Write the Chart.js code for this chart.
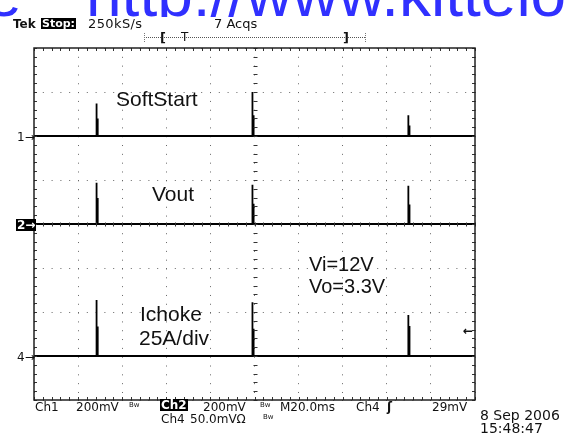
<!DOCTYPE html>
<html>
<head>
<meta charset="utf-8">
<script src="https://cdn.jsdelivr.net/npm/chart.js@4"></script>
<style>
  body { margin: 0; background: #fff; }
  #wrap { position: relative; width: 564px; height: 434px; overflow: hidden; background: #fff; }
  #scope { position: absolute; left: 0; top: 0; }
  .t { position: absolute; white-space: pre; line-height: 1; color: #111; font-family: "DejaVu Sans", sans-serif; font-size: 13px; }
  .note { font-family: "Liberation Sans", Arial, sans-serif; font-size: 21px; color: #111; }
  .inv { background: #000; color: #fff; font-weight: bold; }
  .bw { font-size: 7px; }
  .wm { font-family: "Liberation Sans", Arial, sans-serif; font-size: 64px; color: #3030ff; top: -38px; }
  #mark { position: absolute; left: 0; top: 0; width: 564px; height: 17px; overflow: hidden; }
</style>
</head>
<body>
<div id="wrap">
  <canvas id="scope" width="564" height="434"></canvas>

  <div id="mark">
    <div class="t wm" style="left:-14px;">e</div>
    <div class="t wm" style="left:86px;">http://www.kittelo</div>
  </div>

  <!-- header -->
  <div class="t" style="left:13px; top:18px; font-size:12px; font-weight:bold;">Tek</div>
  <div class="t inv" style="left:41px; top:18px; font-size:11px; padding:0 1px;">Stop:</div>
  <div class="t" style="left:88px; top:17px; letter-spacing:0.4px;">250kS/s</div>
  <div class="t" style="left:214px; top:17px;">7 Acqs</div>

  <!-- trigger position bar -->
  <div style="position:absolute; left:144px; top:37px; width:221px; border-top:1px dotted #555;"></div>
  <div style="position:absolute; left:144px; top:33px; height:9px; border-left:1px dotted #777;"></div>
  <div style="position:absolute; left:365px; top:33px; height:9px; border-left:1px dotted #777;"></div>
  <div class="t" style="left:160px; top:31px; font-weight:bold;">[</div>
  <div class="t" style="left:181px; top:31px; font-size:12px;">T</div>
  <div class="t" style="left:343px; top:31px; font-weight:bold;">]</div>

  <!-- channel ground markers -->
  <div class="t" style="left:17px; top:131px; font-size:12px;">1→</div>
  <div class="t inv" style="left:16px; top:219px; font-size:12px; padding:0 1px;">2→</div>
  <div class="t" style="left:17px; top:351px; font-size:12px;">4→</div>
  <div class="t" style="left:463px; top:325px; font-size:12px; font-weight:bold;">←</div>

  <!-- annotations -->
  <div class="t note" style="left:116px; top:88px;">SoftStart</div>
  <div class="t note" style="left:152px; top:183px;">Vout</div>
  <div class="t note" style="left:140px; top:303px;">Ichoke</div>
  <div class="t note" style="left:139px; top:327px;">25A/div</div>
  <div class="t note" style="left:309px; top:254px; font-size:20px;">Vi=12V</div>
  <div class="t note" style="left:309px; top:276px; font-size:20px;">Vo=3.3V</div>

  <!-- footer -->
  <div class="t" style="left:35px; top:401px; font-size:12px;">Ch1</div>
  <div class="t" style="left:76px; top:401px; font-size:12px;">200mV</div>
  <div class="t bw" style="left:129px; top:402px;">Bw</div>
  <div class="t inv" style="left:160px; top:399px; font-size:12px; padding:0 1px;">Ch2</div>
  <div class="t" style="left:203px; top:401px; font-size:12px;">200mV</div>
  <div class="t bw" style="left:260px; top:402px;">Bw</div>
  <div class="t" style="left:280px; top:401px; font-size:12px;">M20.0ms</div>
  <div class="t" style="left:356px; top:401px; font-size:12px;">Ch4</div>
  <div class="t" style="left:387px; top:401px; font-size:12px; font-weight:bold;">ʃ</div>
  <div class="t" style="left:432px; top:401px; font-size:12px;">29mV</div>
  <div class="t" style="left:161px; top:413px; font-size:12px;">Ch4</div>
  <div class="t" style="left:190px; top:413px; font-size:12px;">50.0mVΩ</div>
  <div class="t bw" style="left:263px; top:414px;">Bw</div>
  <div class="t" style="left:480px; top:408px; font-size:14px;">8 Sep 2006</div>
  <div class="t" style="left:480px; top:421px; font-size:14px;">15:48:47</div>
</div>

<script>
// horizontal: 20 ms/div over 10 divisions; vertical: 8 divisions
const timeMin = -100, timeMax = 100, timeStep = 20;
const divMin = -4, divMax = 4;

// pulse instants (ms) and pulse width (ms)
const pulseTimes = [-71.7, -1.0, 69.7];
const pulseWidth = 0.6;

// channel ground levels (div)
const softStartLevel = 2;
const voutLevel = 0;
const ichokeLevel = -3;

// spike peaks and the lower, wider part of each spike (div above ground)
const softStartPeak = [0.74, 1.00, 0.47];
const softStartBody = [0.38, 0.45, 0.22];
const voutPeak = [0.94, 0.89, 0.87];
const voutBody = [0.57, 0.44, 0.42];
const ichokePeak = [1.27, 1.22, 0.93];
const ichokeBody = [0.65, 0.60, 0.66];

function trace(level, peaks, bodies) {
    const pts = [{ x: timeMin, y: level }];
    pulseTimes.forEach((t, i) => {
        pts.push({ x: t, y: level });
        pts.push({ x: t, y: level + peaks[i] });
        pts.push({ x: t + pulseWidth * 0.25, y: level + bodies[i] });
        pts.push({ x: t + pulseWidth, y: level + bodies[i] });
        pts.push({ x: t + pulseWidth, y: level });
    });
    pts.push({ x: timeMax, y: level });
    return pts;
}

// frame and the small 1/5-division marks of the graticule
const graticule = {
    id: 'graticule',
    afterDraw(chart) {
        const { ctx, chartArea: a, scales: { x, y } } = chart;
        const cx = Math.round(x.getPixelForValue(0)) + 0.5;
        const cy = Math.round(y.getPixelForValue(0)) + 0.5;
        ctx.save();
        ctx.strokeStyle = '#333';
        ctx.lineWidth = 1;
        ctx.beginPath();
        for (let i = 0; i <= 50; i++) {
            const px = Math.round(x.getPixelForValue(timeMin + i * timeStep / 5)) + 0.5;
            ctx.moveTo(px, a.top); ctx.lineTo(px, a.top + 3);
            ctx.moveTo(px, a.bottom - 3); ctx.lineTo(px, a.bottom);
            ctx.moveTo(px, cy - 2); ctx.lineTo(px, cy + 2);
        }
        for (let i = 0; i <= 40; i++) {
            const py = Math.round(y.getPixelForValue(divMin + i / 5)) + 0.5;
            ctx.moveTo(a.left, py); ctx.lineTo(a.left + 3, py);
            ctx.moveTo(a.right - 3, py); ctx.lineTo(a.right, py);
            ctx.moveTo(cx - 2, py); ctx.lineTo(cx + 2, py);
        }
        ctx.stroke();
        ctx.strokeStyle = '#222';
        ctx.lineWidth = 1.5;
        ctx.strokeRect(a.left, a.top, a.right - a.left, a.bottom - a.top);
        ctx.restore();
    }
};

const traceStyle = { borderColor: '#000', borderWidth: 1.8, pointRadius: 0, tension: 0, fill: false };

new Chart(document.getElementById('scope').getContext('2d'), {
    type: 'line',
    data: {
        datasets: [
            { label: 'SoftStart', data: trace(softStartLevel, softStartPeak, softStartBody), ...traceStyle },
            { label: 'Vout', data: trace(voutLevel, voutPeak, voutBody), ...traceStyle },
            { label: 'Ichoke', data: trace(ichokeLevel, ichokePeak, ichokeBody), ...traceStyle }
        ]
    },
    options: {
        responsive: false,
        animation: false,
        layout: { padding: { left: 34, right: 89, top: 48, bottom: 34 } },
        plugins: { legend: { display: false }, tooltip: { enabled: false } },
        scales: {
            x: {
                type: 'linear', min: timeMin, max: timeMax,
                ticks: { stepSize: timeStep, display: false },
                grid: { color: '#666', lineWidth: 1, drawTicks: false },
                border: { display: false, dash: [1, 7.82] }
            },
            y: {
                type: 'linear', min: divMin, max: divMax,
                ticks: { stepSize: 1, display: false },
                grid: { color: '#666', lineWidth: 1, drawTicks: false },
                border: { display: false, dash: [1, 7.8] }
            }
        }
    },
    plugins: [graticule]
});
</script>
</body>
</html>
